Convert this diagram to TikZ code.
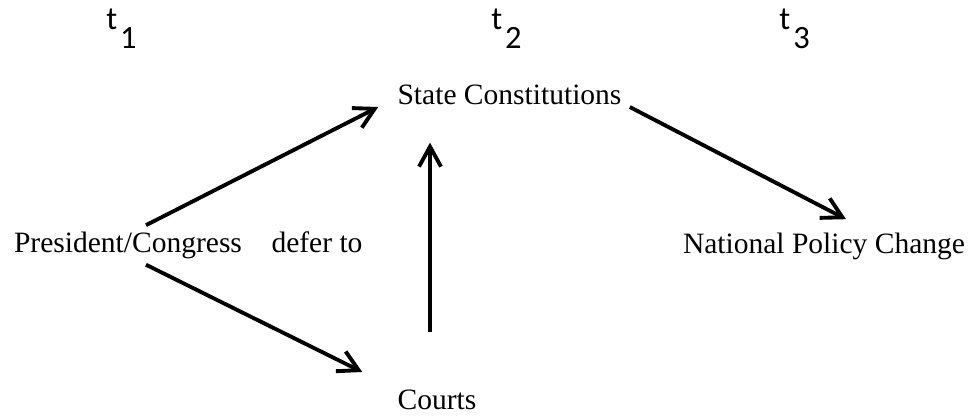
\documentclass[tikz,border=0pt]{standalone}
\usepackage{fontspec}
\setmainfont{Liberation Serif}
\newfontfamily\timefont{Carlito}
\usepackage{tikz}
\usetikzlibrary{positioning, calc, arrows.meta}

\begin{document}
\begin{tikzpicture}[x=0.02cm, y=-0.02cm,
    actor/.style={inner sep=0pt, anchor=base, font=\fontsize{16.8}{20}\selectfont},
    period/.style={inner sep=0pt, anchor=base west, font=\timefont\fontsize{18.5}{22}\selectfont},
    arrow/.style={-{Straight Barb[length=0.4cm, width=0.44cm]}, line width=2.2pt}
]
\useasboundingbox (0,0) rectangle (972,416);

% time points
\node[period] (t1) at (106,29) {t\hspace{0.06cm}\raisebox{-0.4cm}{1}};
\node[period] (t2) at (491,29) {t\hspace{0.06cm}\raisebox{-0.4cm}{2}};
\node[period] (t3) at (779,29) {t\hspace{0.06cm}\raisebox{-0.4cm}{3}};

% actors
\node[actor] (pc) at (128,252) {President/Congress};
\node[actor] (defer) at (317,252) {defer to};
\node[actor] (sc) at (509.5,104) {State Constitutions};
\node[actor] (courts) at (437,409) {Courts};
\node[actor] (npc) at (824,253) {National Policy Change};

\draw[arrow] ($(pc.north)+(18,-6)$) -- ($(sc.base west)+(-19,3)$);
\draw[arrow] ($(pc.south)+(18,6)$) -- ($(courts.base west)+(-35,-37)$);
\draw[arrow, shorten <=1.14cm, shorten >=0.76cm]
    ([xshift=-0.14cm]courts.north) -- ([xshift=-0.14cm]courts.north |- sc.south);
\draw[arrow] ($(sc.base east)+(8,3)$) -- ($(npc.north)+(22,-13)$);

\end{tikzpicture}
\end{document}
